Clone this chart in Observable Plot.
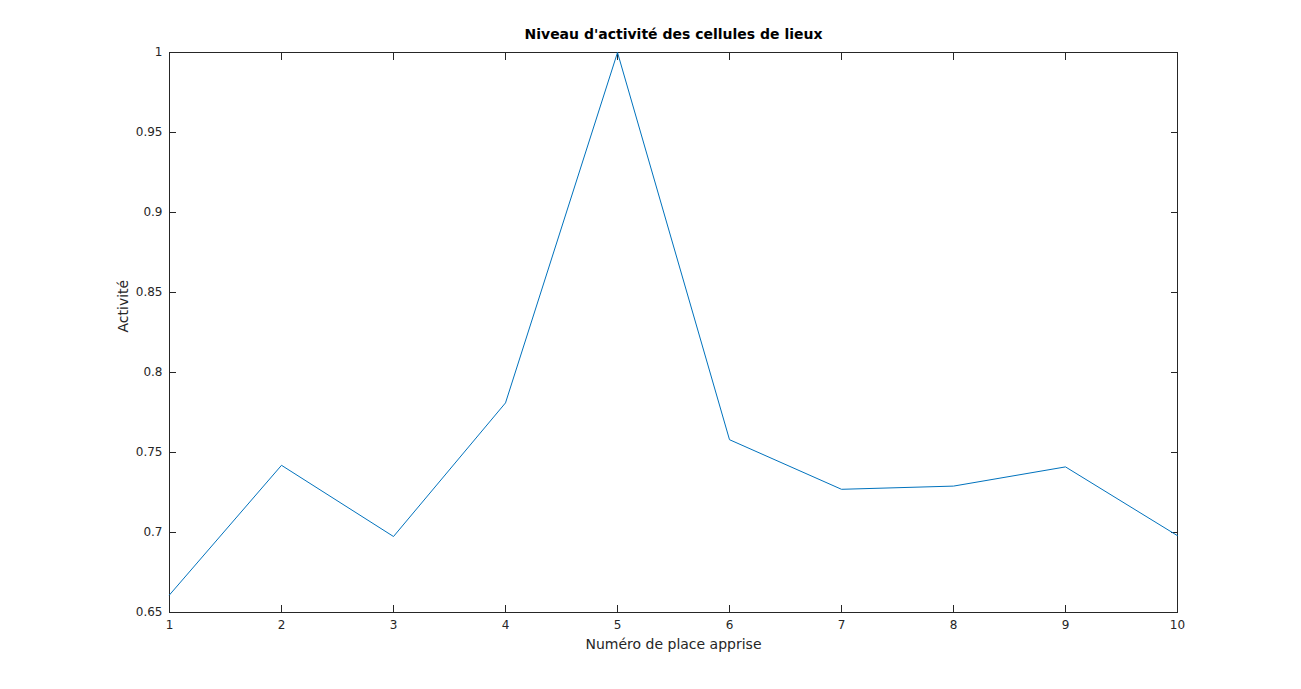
<!DOCTYPE html>
<html><head><meta charset="utf-8">
<script src="https://cdn.jsdelivr.net/npm/d3@7"></script>
<script src="https://cdn.jsdelivr.net/npm/@observablehq/plot@0.6"></script>
<style>body{margin:0;background:#fff;font-family:"DejaVu Sans",sans-serif}</style>
</head><body><div id="c"></div>
<script>
const places = [1,2,3,4,5,6,7,8,9,10];
const activite = [0.661,0.742,0.6975,0.781,1.0,0.758,0.727,0.729,0.741,0.698];
const yTicks = [0.65,0.7,0.75,0.8,0.85,0.9,0.95,1];
const data = places.map((p,i)=>({p, a: activite[i]}));
const fmt = d => d===1 ? "1" : String(d);
const plot = Plot.plot({
  width:1301, height:689,
  marginLeft:169, marginRight:124, marginTop:52, marginBottom:77,
  style:{fontFamily:"DejaVu Sans, sans-serif", fontSize:"12px", color:"#262626", background:"#fff"},
  x:{domain:[1,10]},
  y:{domain:[0.65,1]},
  marks:[
    Plot.frame({stroke:"#262626"}),
    Plot.axisX({ticks:places, tickSize:-7, tickPadding:15, tickFormat:d=>d, label:null}),
    Plot.axisX({anchor:"top", ticks:places, tickSize:-7, tickFormat:()=>"", label:null}),
    Plot.axisY({ticks:yTicks, tickSize:-7, tickPadding:14, tickFormat:fmt, label:null}),
    Plot.axisY({anchor:"right", ticks:yTicks, tickSize:-7, tickFormat:()=>"", label:null}),
    Plot.lineY(data,{x:"p", y:"a", stroke:"#0072BD", strokeWidth:1}),
    Plot.text(["Niveau d'activité des cellules de lieux"],{frameAnchor:"top", dy:-14, fontWeight:"bold", fontSize:14, fill:"#000", lineAnchor:"bottom", dx:0}),
    Plot.text(["Numéro de place apprise"],{frameAnchor:"bottom", dy:36, fontSize:14, fill:"#262626"}),
    Plot.text(["Activité"],{frameAnchor:"left", dx:-46, rotate:-90, fontSize:14, fill:"#262626"})
  ]
});
document.getElementById("c").appendChild(plot);
</script></body></html>
